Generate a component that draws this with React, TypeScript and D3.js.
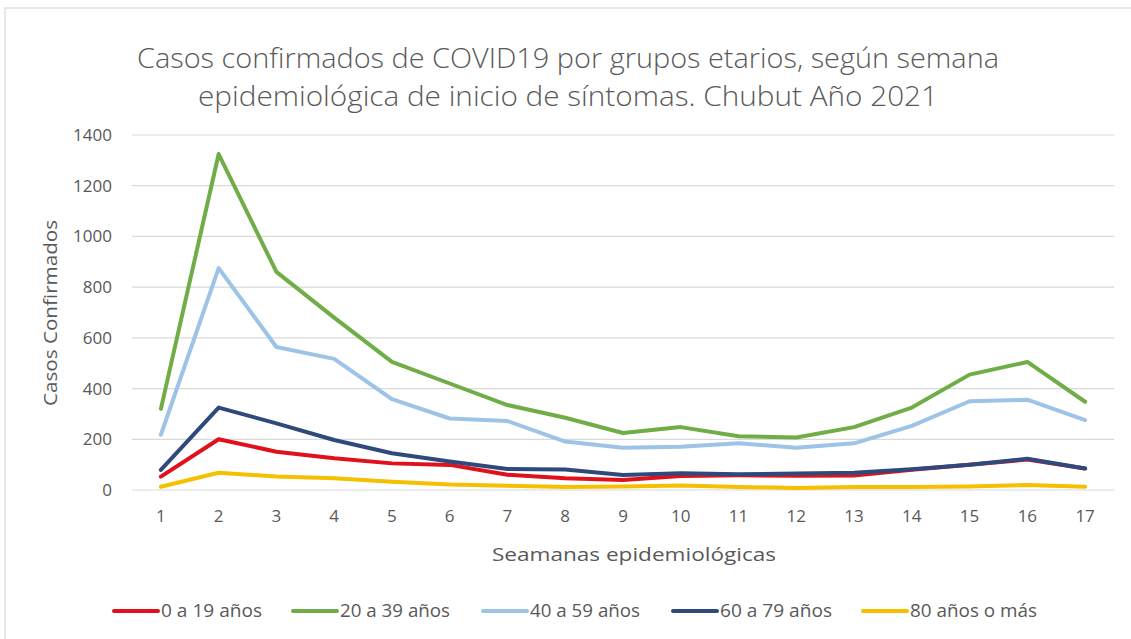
import React from 'react';
import * as d3 from 'd3';

const weeks = ['1', '2', '3', '4', '5', '6', '7', '8', '9', '10', '11', '12', '13', '14', '15', '16', '17'];
const yTicks = [0, 200, 400, 600, 800, 1000, 1200, 1400];

const age0to19 = [53, 200, 151, 125, 105, 99, 60, 46, 39, 55, 58, 56, 57, 80, 100, 120, 85];
const age20to39 = [320, 1325, 860, 680, 505, 420, 335, 285, 225, 248, 212, 207, 248, 325, 455, 505, 348];
const age40to59 = [218, 875, 564, 517, 358, 282, 272, 191, 167, 171, 184, 167, 184, 253, 350, 356, 276];
const age60to79 = [79, 325, 263, 197, 145, 112, 83, 81, 59, 66, 62, 65, 68, 82, 100, 123, 85];
const age80plus = [13, 68, 53, 46, 33, 22, 17, 12, 14, 18, 12, 8, 12, 12, 14, 20, 13];

const seriesNames = ['0 a 19 años', '20 a 39 años', '40 a 59 años', '60 a 79 años', '80 años o más'];
const seriesValues = [age0to19, age20to39, age40to59, age60to79, age80plus];
const seriesColors = ['#e0101c', '#70ad47', '#9dc3e6', '#2e4a7d', '#f5c000'];

const FONT = '"Open Sans", sans-serif';
const TEXT = '#595959';

const App: React.FC = () => {
  const x = d3.scalePoint<string>().domain(weeks).range([132, 1114]).padding(0.5);
  const y = d3.scaleLinear().domain([0, 1400]).range([490, 135]);

  const line = d3.line<number>()
    .x((_, i) => x(weeks[i]) as number)
    .y(d => y(d));

  // legend: line sample start and label width (labels are condensed like Calibri)
  const legendX = [114, 293, 483, 673, 863];
  const legendW = [101, 110, 110, 112, 127];
  const legendY = 611;

  return (
    <svg
      width={1131}
      height={639}
      style={{ position: 'absolute', left: 0, top: 0, display: 'block', background: '#fff' }}
    >
      <rect x={5} y={8} width={1140} height={650} fill="#fff" stroke="#d9d9d9" strokeWidth={1.2} />

      {/* Title */}
      <g fontFamily={FONT} fontWeight={300} fill={TEXT} fontSize={27} textAnchor="middle">
        <text x={568} y={68} textLength={862} lengthAdjust="spacingAndGlyphs">
          Casos confirmados de COVID19 por grupos etarios, según semana
        </text>
        <text x={568} y={106} textLength={740} lengthAdjust="spacingAndGlyphs">
          epidemiológica de inicio de síntomas. Chubut Año 2021
        </text>
      </g>

      {/* Grid lines and y ticks */}
      {yTicks.map(t => (
        <g key={`grid-${t}`}>
          <line x1={132} x2={1114} y1={y(t)} y2={y(t)} stroke="#d9d9d9" strokeWidth={1.2} />
          <text
            x={112}
            y={y(t)}
            dy="0.35em"
            textAnchor="end"
            fontFamily={FONT}
            fontSize={17}
            fill={TEXT}
          >
            {t}
          </text>
        </g>
      ))}

      {/* X ticks */}
      {weeks.map(w => (
        <text
          key={`xt-${w}`}
          x={x(w)}
          y={522}
          textAnchor="middle"
          fontFamily={FONT}
          fontSize={17}
          fill={TEXT}
        >
          {w}
        </text>
      ))}

      {/* Axis titles */}
      <text
        x={634}
        y={561}
        textAnchor="middle"
        fontFamily={FONT}
        fontSize={19}
        fill={TEXT}
        textLength={284}
        lengthAdjust="spacingAndGlyphs"
      >
        Seamanas epidemiológicas
      </text>
      <text
        transform="translate(57,313) rotate(-90)"
        textAnchor="middle"
        fontFamily={FONT}
        fontSize={18}
        fill={TEXT}
        textLength={186}
        lengthAdjust="spacingAndGlyphs"
      >
        Casos Confirmados
      </text>

      {/* Lines */}
      {seriesValues.map((vals, i) => (
        <path
          key={`s-${i}`}
          d={line(vals) ?? undefined}
          fill="none"
          stroke={seriesColors[i]}
          strokeWidth={4}
          strokeLinejoin="round"
          strokeLinecap="round"
        />
      ))}

      {/* Legend */}
      {seriesNames.map((name, i) => (
        <g key={`lg-${i}`}>
          <line
            x1={legendX[i]}
            x2={legendX[i] + 44}
            y1={legendY}
            y2={legendY}
            stroke={seriesColors[i]}
            strokeWidth={4}
            strokeLinecap="round"
          />
          <text
            x={legendX[i] + 47}
            y={legendY}
            dy="0.35em"
            fontFamily={FONT}
            fontSize={18}
            fill={TEXT}
            textLength={legendW[i]}
            lengthAdjust="spacingAndGlyphs"
          >
            {name}
          </text>
        </g>
      ))}
    </svg>
  );
};

export default App;
